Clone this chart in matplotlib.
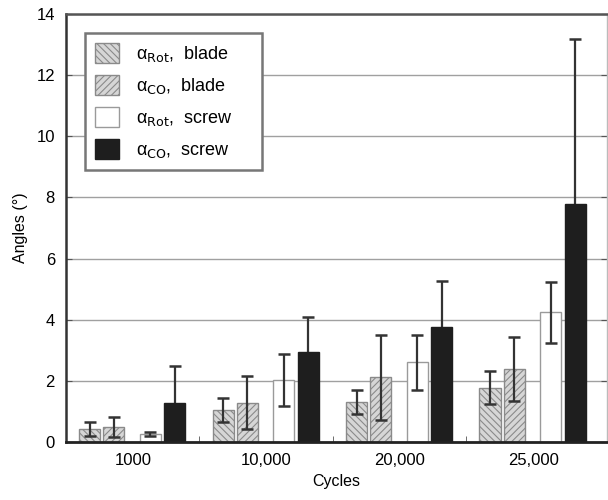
import matplotlib.pyplot as plt
import numpy as np

plt.rcParams['font.family'] = ['Liberation Sans', 'DejaVu Sans']
plt.rcParams['hatch.linewidth'] = 0.8

cycles = ['1000', '10,000', '20,000', '25,000']

rot_blade = [0.43, 1.05, 1.30, 1.78]
rot_blade_err = [0.22, 0.40, 0.40, 0.55]
co_blade = [0.48, 1.29, 2.11, 2.39]
co_blade_err = [0.33, 0.88, 1.40, 1.05]
rot_screw = [0.27, 2.02, 2.61, 4.25]
rot_screw_err = [0.07, 0.85, 0.90, 1.00]
co_screw = [1.29, 2.93, 3.76, 7.78]
co_screw_err = [1.20, 1.17, 1.50, 5.40]

labels = [u'\u03b1$_{\\mathrm{Rot}}$,  blade', u'\u03b1$_{\\mathrm{CO}}$,  blade',
          u'\u03b1$_{\\mathrm{Rot}}$,  screw', u'\u03b1$_{\\mathrm{CO}}$,  screw']

fig = plt.figure(figsize=(6.08, 5.0), dpi=100)
ax = fig.add_axes([0.1086, 0.116, 0.889, 0.856])

x = np.arange(len(cycles)) + 0.5
w = 0.158
offsets = [-0.323, -0.143, 0.132, 0.316]

series = [rot_blade, co_blade, rot_screw, co_screw]
errs = [rot_blade_err, co_blade_err, rot_screw_err, co_screw_err]
faces = ['#d6d6d6', '#d6d6d6', 'white', '#1e1e1e']
edges = ['#8a8a8a', '#8a8a8a', '#9a9a9a', '#1e1e1e']
hatches = ['\\\\\\\\\\', '/////', None, None]
err_z = [3, 3, 3, 1.5]

for i in range(4):
    ax.bar(x + offsets[i], series[i], w, color=faces[i], edgecolor=edges[i],
           hatch=hatches[i], linewidth=1.0, label=labels[i], zorder=2)
    ax.errorbar(x + offsets[i], series[i], yerr=errs[i], fmt='none',
                ecolor='#333333', elinewidth=1.6, capsize=4, capthick=1.8, zorder=err_z[i])

ax.set_xlim(0, 4.05)
ax.set_ylim(0, 14)
ax.set_yticks(np.arange(0, 15, 2))
ax.set_xticks(x)
ax.set_xticklabels(cycles)
ax.set_xticks([1, 2, 3], minor=True)
ax.tick_params(axis='x', which='major', length=0, labelsize=12, pad=8)
ax.tick_params(axis='x', which='minor', direction='in', length=4, color='#555555')
ax.tick_params(axis='y', direction='in', length=4, labelsize=12, right=True, pad=8, color='#555555')

ax.yaxis.grid(True, color='#a0a0a0', linewidth=1.0, zorder=0)
ax.set_axisbelow(True)

ax.spines['left'].set_color('#333333')
ax.spines['left'].set_linewidth(1.8)
ax.spines['bottom'].set_color('#222222')
ax.spines['bottom'].set_linewidth(2.0)
ax.spines['top'].set_color('#555555')
ax.spines['top'].set_linewidth(1.8)
ax.spines['right'].set_color('#bbbbbb')
ax.spines['right'].set_linewidth(1.0)

ax.set_xlabel('Cycles', fontsize=11.5, labelpad=4)
ax.set_ylabel(u'Angles (\u00b0)', fontsize=11.5, labelpad=6)

leg = ax.legend(loc='upper left', bbox_to_anchor=(0.035, 0.0, 0.327, 0.956), mode='expand',
                borderaxespad=0, fontsize=13, handlelength=1.35, handleheight=1.35,
                labelspacing=0.6, handletextpad=0.9, borderpad=0.55, fancybox=False,
                framealpha=1)
leg.get_frame().set_edgecolor('#777777')
leg.get_frame().set_linewidth(1.8)

fig.savefig('out.png', dpi=100)
